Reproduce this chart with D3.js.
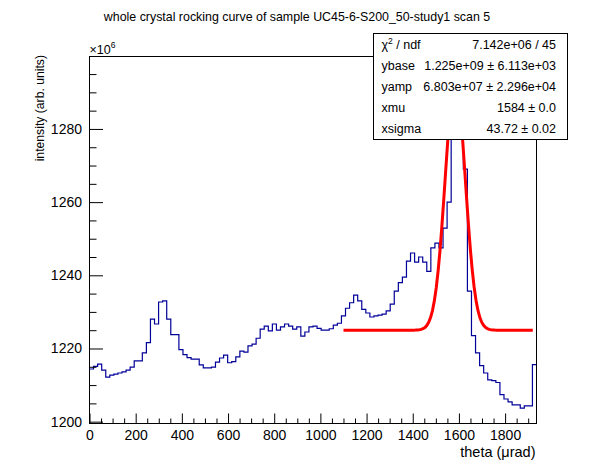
<!DOCTYPE html>
<html>
<head>
<meta charset="utf-8">
<script src="https://cdn.jsdelivr.net/npm/d3@7"></script>
<style>
  body { margin: 0; background: #fff; }
  svg { font-family: "Liberation Sans", Arial, Helvetica, sans-serif; display: block; }
  .axis .domain { display: none; }
  .axis line { stroke: #000; }
  .axis text { font-size: 14px; fill: #000; }
</style>
</head>
<body>
<div id="box-div"></div>
<script>
// histogram range, theta in µrad
const thetaLow = 0
const thetaHigh = 1936

// bin contents, in units of 1e6
const counts = [
  1214.4, 1215.1, 1215.7, 1214.1, 1212.2, 1212.7, 1213.0, 1213.3, 1213.6, 1214.1,
  1214.9, 1216.6, 1216.6, 1218.8, 1221.6, 1228.0, 1226.7, 1232.7, 1233.0, 1228.0,
  1223.8, 1223.8, 1219.7, 1218.3, 1217.5, 1217.1, 1217.1, 1215.5, 1214.7, 1214.7,
  1214.9, 1216.3, 1217.4, 1218.2, 1216.1, 1216.4, 1217.7, 1219.3, 1219.0, 1220.7,
  1221.2, 1222.8, 1225.3, 1226.1, 1224.8, 1226.7, 1225.0, 1225.9, 1226.7, 1226.1,
  1225.3, 1225.9, 1223.4, 1224.5, 1225.9, 1226.1, 1225.5, 1225.0, 1225.0, 1225.4,
  1226.4, 1226.9, 1228.9, 1231.0, 1232.5, 1234.6, 1233.0, 1230.7, 1229.7, 1228.6,
  1228.9, 1229.1, 1229.4, 1230.3, 1232.1, 1235.7, 1238.0, 1239.5, 1243.9, 1246.1,
  1243.6, 1245.0, 1243.6, 1241.1, 1247.5, 1248.8, 1247.5, 1252.9, 1260.0, 1290.0,
  1296.0, 1286.0, 1269.0, 1235.7, 1223.5, 1218.8, 1215.3, 1213.3, 1211.4, 1211.2,
  1210.7, 1207.4, 1206.2, 1205.4, 1204.6, 1204.6, 1203.7, 1204.3, 1204.3, 1215.6
]

// gaussian fit on a flat base (units of 1e6 for y)
const fitBase = 1225.0
const fitAmp = 68.03
const fitMu = 1584
const fitSigma = 43.72
const fitRange = [1100, 1920]

const xTicks = [0, 200, 400, 600, 800, 1000, 1200, 1400, 1600, 1800]
const yTicks = [1200, 1220, 1240, 1260, 1280]

const statNames = ['χ', 'ybase', 'yamp', 'xmu', 'xsigma']
const statValues = ['7.142e+06 / 45', '1.225e+09 ± 6.113e+03', '6.803e+07 ± 2.296e+04', '1584 ± 0.0', '43.72 ± 0.02']

const dms = {
    width: 596,
    height: 472,
    margin: {
      top: 56.5,
      right: 59.5,
      bottom: 48.5,
      left: 89.5
    }
}

dms.contentWidth = dms.width - dms.margin.left - dms.margin.right
dms.contentHeight = dms.height - dms.margin.top - dms.margin.bottom

const box = d3.select('#box-div').append('svg')
    .attr('width', dms.width)
    .attr('height', dms.height)

const content = box.append('g')
    .attr('transform', `translate(${dms.margin.left},${dms.margin.top})`)

const xScale = d3.scaleLinear()
    .domain([thetaLow, thetaHigh])
    .range([0, dms.contentWidth])

const yScale = d3.scaleLinear()
    .domain([1199.5, 1299.8])
    .range([dms.contentHeight, 0])

// frame
content.append('rect')
    .attr('width', dms.contentWidth)
    .attr('height', dms.contentHeight)
    .attr('fill', 'none')
    .attr('stroke', '#000')

// histogram as steps
const binWidth = (thetaHigh - thetaLow) / counts.length
const steps = counts.map((c, i) => [thetaLow + i * binWidth, c])
steps.push([thetaHigh, counts[counts.length - 1]])

const stepLine = d3.line()
    .x(d => xScale(d[0]))
    .y(d => yScale(d[1]))
    .curve(d3.curveStepAfter)

content.append('path')
    .datum(steps)
    .attr('d', stepLine)
    .attr('fill', 'none')
    .attr('stroke', '#000099')
    .attr('stroke-width', 1.2)

// fitted function, sampled like root does (100 segments)
const fitX = d3.range(101).map(i => fitRange[0] + i * (fitRange[1] - fitRange[0]) / 100)
const fitFn = x => fitBase + fitAmp * Math.exp(-0.5 * Math.pow((x - fitMu) / fitSigma, 2))

content.append('path')
    .datum(fitX)
    .attr('d', d3.line().x(d => xScale(d)).y(d => yScale(fitFn(d))))
    .attr('fill', 'none')
    .attr('stroke', '#ff0000')
    .attr('stroke-width', 3)

// axes, ticks pointing into the frame
const xMinor = d3.range(0, thetaHigh, 50).filter(v => v % 200 !== 0)
const yMinor = d3.range(1205, 1300, 5).filter(v => v % 20 !== 0)

content.append('g')
    .attr('class', 'axis')
    .attr('transform', `translate(0,${dms.contentHeight})`)
    .call(d3.axisBottom(xScale).tickValues(xMinor).tickSize(-5).tickFormat(''))

content.append('g')
    .attr('class', 'axis')
    .attr('transform', `translate(0,${dms.contentHeight})`)
    .call(d3.axisBottom(xScale).tickValues(xTicks).tickSize(-10).tickPadding(6.5).tickFormat(d3.format('d')))

content.append('g')
    .attr('class', 'axis')
    .call(d3.axisLeft(yScale).tickValues(yMinor).tickSize(-7).tickFormat(''))

content.append('g')
    .attr('class', 'axis')
    .call(d3.axisLeft(yScale).tickValues(yTicks).tickSize(-13.5).tickPadding(7.5).tickFormat(d3.format('d')))

// exponent label
const expo = box.append('text')
    .attr('x', 89.5)
    .attr('y', 53.5)
    .attr('font-size', 12.5)
expo.append('tspan').text('×10')
expo.append('tspan').attr('font-size', 8.5).attr('dy', -6).text('6')

// titles
box.append('text')
    .attr('x', 297)
    .attr('y', 21)
    .attr('text-anchor', 'middle')
    .attr('font-size', 12.4)
    .text('whole crystal rocking curve of sample UC45-6-S200_50-study1 scan 5')

box.append('text')
    .attr('transform', 'translate(44,55) rotate(-90)')
    .attr('text-anchor', 'end')
    .attr('font-size', 12.2)
    .text('intensity (arb. units)')

box.append('text')
    .attr('x', 535.5)
    .attr('y', 456.5)
    .attr('text-anchor', 'end')
    .attr('font-size', 14.5)
    .text('theta (μrad)')

// stats box
const stats = box.append('g')
    .attr('transform', 'translate(373.5,33.5)')

const statW = 194
const statH = 106
const rowH = statH / statNames.length

stats.append('rect')
    .attr('width', statW)
    .attr('height', statH)
    .attr('fill', '#fff')
    .attr('stroke', '#000')

const rows = stats.selectAll('g.row')
    .data(statNames)
    .join('g')
    .attr('class', 'row')
    .attr('transform', (d, i) => `translate(0,${rowH * (i + 0.5) + 4.4})`)

rows.append('text')
    .attr('x', 8)
    .attr('font-size', 12.5)
    .each(function (d, i) {
        const t = d3.select(this)
        t.append('tspan').text(d)
        if (i === 0) {
            t.append('tspan').attr('font-size', 8.5).attr('dy', -5).text('2')
            t.append('tspan').attr('dy', 5).text(' / ndf')
        }
    })

rows.append('text')
    .attr('x', statW - 11.5)
    .attr('text-anchor', 'end')
    .attr('font-size', 12.5)
    .text((d, i) => statValues[i])
</script>
</body>
</html>
